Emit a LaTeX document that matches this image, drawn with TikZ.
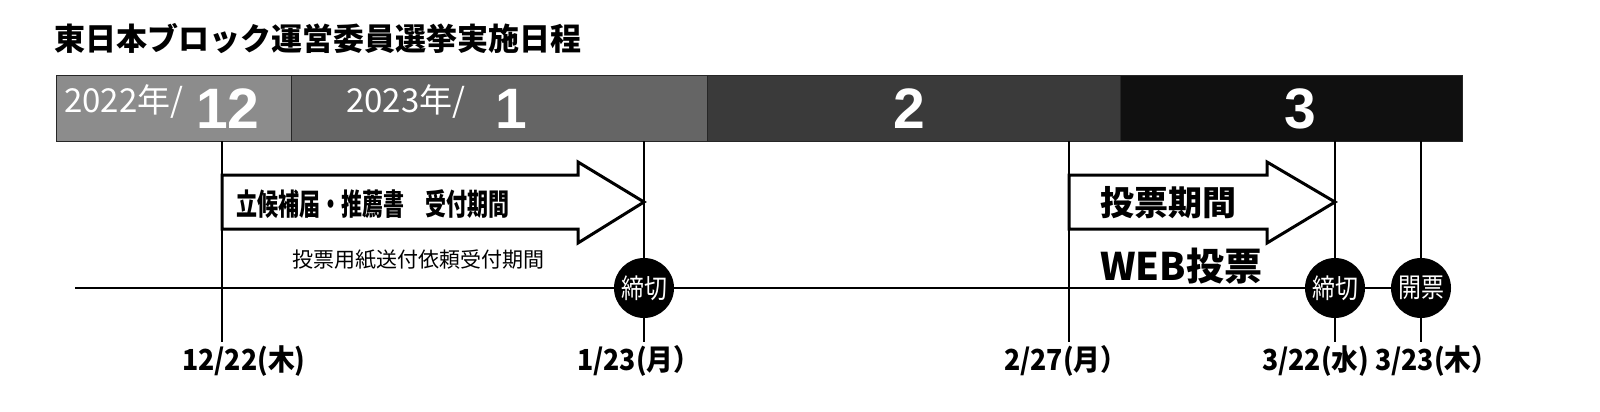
\documentclass[tikz,border=0pt]{standalone}
\usepackage{fontspec}
\newfontfamily\jpfont{Noto Sans CJK JP}
\newfontfamily\jpnarrow{Noto Sans CJK JP}[FakeStretch=0.7]
\newfontfamily\jpcirc{Noto Sans CJK JP}[FakeStretch=0.85]
\newfontfamily\jpdate{Noto Sans CJK JP}[FakeStretch=0.92]
\newfontfamily\numfont{Liberation Sans}
\definecolor{decgray}{HTML}{8C8C8C}
\definecolor{jangray}{HTML}{656565}
\definecolor{febgray}{HTML}{3A3A3A}
\definecolor{margray}{HTML}{101010}
\tikzset{
  monthbar/.style={draw=black!85, line width=1pt},
  yearlbl/.style={text=white, inner sep=0pt, anchor=base west, font=\jpfont\fontsize{33}{33}\selectfont},
  monthnum/.style={text=white, inner sep=0pt, anchor=base, font=\numfont\bfseries\fontsize{57}{57}\selectfont},
  dayline/.style={line width=1.4pt},
  period/.style={draw=black, line width=3pt, fill=white, line join=miter},
  dotlbl/.style={circle, fill=black, minimum size=60pt, inner sep=0pt, text=white, font=\jpcirc\fontsize{27}{27}\selectfont},
  datelbl/.style={inner sep=0pt, anchor=base west, font=\jpdate\bfseries\fontsize{29}{29}\selectfont}
}
\begin{document}
\begin{tikzpicture}[x=1pt,y=-1pt]
\useasboundingbox (0,0) rectangle (1600,412);
%%% title
\node[anchor=west, inner sep=0pt, font=\jpfont\bfseries\fontsize{31}{31}\selectfont] (title) at (54,39) {東日本ブロック運営委員選挙実施日程};
%%% the month bar
\draw[monthbar, fill=decgray] (56,75) rectangle (291,141);
\draw[monthbar, fill=jangray] (291,75) rectangle (707,141);
\draw[monthbar, fill=febgray] (707,75) rectangle (1120,141);
\draw[monthbar, fill=margray] (1120,75) rectangle (1462,141);
\node[yearlbl] (y2022) at (64,112) {2022年/};
\node[monthnum] (m12) at (228,128) {12};
\node[yearlbl] (y2023) at (346,112) {2023年/};
\node[monthnum] (m1) at (511,128) {1};
\node[monthnum] (m2) at (909,128) {2};
\node[monthnum] (m3) at (1300,128) {3};
%%% day lines and the time line
\coordinate (d1) at (222,141);  \coordinate (e1) at (222,342);
\coordinate (d2) at (644,141);  \coordinate (e2) at (644,342);
\coordinate (d3) at (1069,141); \coordinate (e3) at (1069,342);
\coordinate (d4) at (1335,141); \coordinate (e4) at (1335,342);
\coordinate (d5) at (1421,141); \coordinate (e5) at (1421,342);
\coordinate (tl) at (75,288);
\draw[dayline] (d1) -- (e1);
\draw[dayline] (d2) -- (e2);
\draw[dayline] (d3) -- (e3);
\draw[dayline] (d4) -- (e4);
\draw[dayline] (d5) -- (e5);
\draw[dayline] (tl) -- (1421,288);
%%% the two periods
\draw[period] (222,175) -- (578,175) -- (578,162) -- (644,202) -- (578,243) -- (578,229) -- (222,229) -- cycle;
\node[anchor=west, inner sep=0pt, font=\jpnarrow\bfseries\fontsize{30}{30}\selectfont] (cand) at (236,204) {立候補届・推薦書　受付期間};
\node[inner sep=0pt, font=\jpfont\fontsize{21}{21}\selectfont] (mail) at (418,260) {投票用紙送付依頼受付期間};
\draw[period] (1069,175) -- (1267,175) -- (1267,162) -- (1335,202) -- (1267,243) -- (1267,229) -- (1069,229) -- cycle;
\node[anchor=west, inner sep=0pt, font=\jpfont\bfseries\fontsize{34}{34}\selectfont] (vote) at (1100,203) {投票期間};
\node[anchor=base west, inner sep=0pt, font=\jpfont\bfseries\fontsize{38}{38}\selectfont] (web) at (1100,280) {WEB投票};
%%% deadlines
\node[dotlbl] (cut1) at (644,288) {締切};
\node[dotlbl] (cut2) at (1335,288) {締切};
\node[dotlbl] (open) at (1421,288) {開票};
%%% dates
\node[datelbl] (t1) at (182,370) {12/22(木)};
\node[datelbl] (t2) at (577,370) {1/23(月）};
\node[datelbl] (t3) at (1004,370) {2/27(月）};
\node[datelbl] (t4) at (1262,370) {3/22(水)};
\node[datelbl] (t5) at (1375,370) {3/23(木）};
\end{tikzpicture}
\end{document}
